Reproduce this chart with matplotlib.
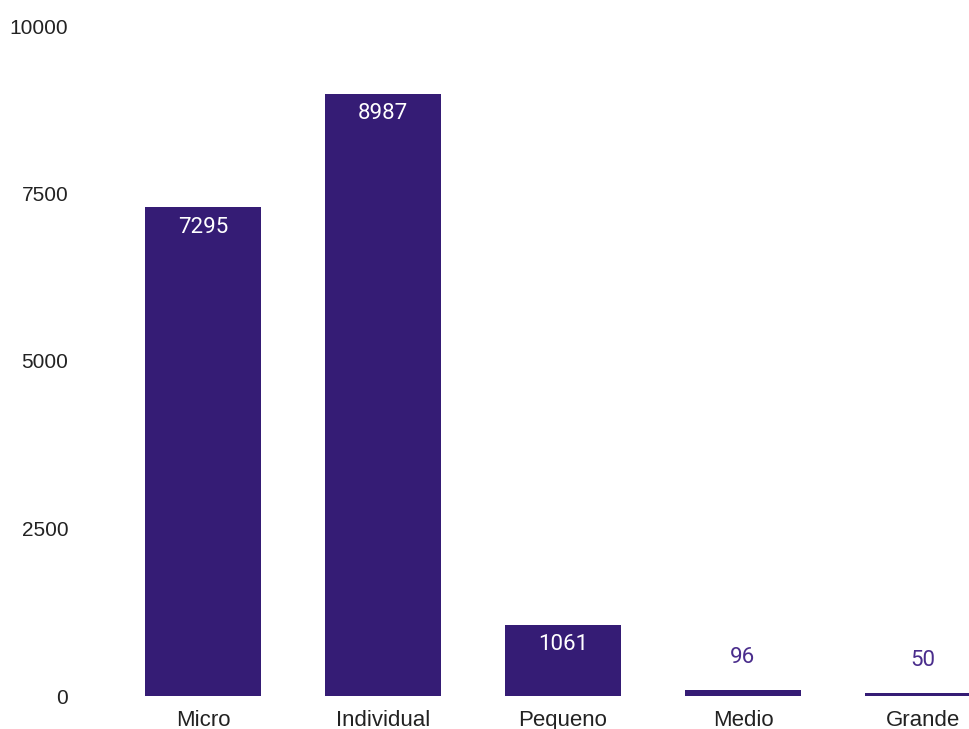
import matplotlib.pyplot as plt

categories = ['Micro', 'Individual', 'Pequeno', 'Medio', 'Grande']
values = [7295, 8987, 1061, 96, 50]
yticks = [0, 2500, 5000, 7500, 10000]

bar_color = '#351c75'

fig = plt.figure(figsize=(9.7, 7.29), dpi=100)
ax = fig.add_axes([85 / 970, 33 / 729, 1 - 85 / 970, (696 - 26) / 729])

x = range(len(categories))
bars = ax.bar(x, values, width=0.645, color=bar_color)

ax.set_xlim((85 - 203) / 180, (970 - 203) / 180)
ax.set_ylim(0, 10000)
ax.set_yticks(yticks)
ax.set_yticklabels([str(v) for v in yticks], fontsize=15, family='Liberation Sans', color='#222222')
ax.set_xticks(list(x))
ax.set_xticklabels(categories, fontsize=16, family='Liberation Sans', color='#222222')
ax.tick_params(length=0)
ax.tick_params(axis='x', pad=10)
ax.tick_params(axis='y', pad=12)
for s in ax.spines.values():
    s.set_visible(False)

for b, v in zip(bars, values):
    cx = b.get_x() + b.get_width() / 2
    if v > 500:
        ax.annotate(str(v), (cx, v), xytext=(0, -20), textcoords='offset pixels',
                    ha='center', va='center', color='white', fontsize=16, family='Roboto',
                    annotation_clip=False)
    else:
        ax.annotate(str(v), (cx, v), xytext=(0, 32), textcoords='offset pixels',
                    ha='center', va='center', color='#4a2d8c', fontsize=16, family='Roboto',
                    annotation_clip=False)

fig.savefig('out.png', dpi=100)
